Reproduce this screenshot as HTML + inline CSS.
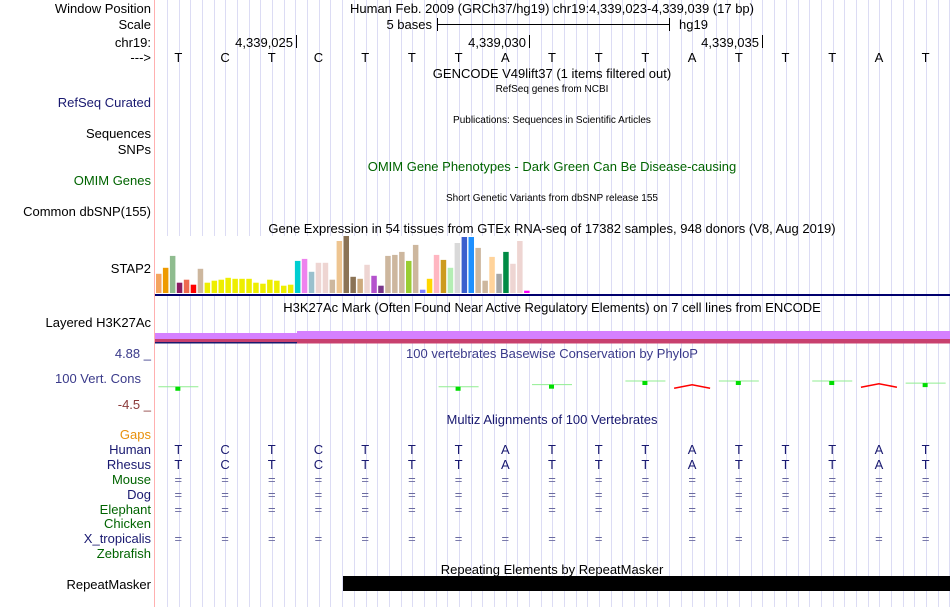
<!DOCTYPE html>
<html><head><meta charset="utf-8"><style>
html,body{margin:0;padding:0;background:#fff;}
svg{display:block;font-family:"Liberation Sans",sans-serif;}
</style></head><body>
<svg id="s" width="950" height="607" xmlns="http://www.w3.org/2000/svg">
<g id="grid"></g>
<line x1="154.5" y1="0" x2="154.5" y2="607" stroke="#ffb0b0"/>
<g font-size="13" text-anchor="end">
<text x="151" y="13" fill="#000">Window Position</text>
<text x="151" y="29" fill="#000">Scale</text>
<text x="151" y="47" fill="#000">chr19:</text>
<text x="151" y="62" fill="#000">---&gt;</text>
<text x="151" y="107" fill="#191970">RefSeq Curated</text>
<text x="151" y="138" fill="#000">Sequences</text>
<text x="151" y="154" fill="#000">SNPs</text>
<text x="151" y="185" fill="#006400">OMIM Genes</text>
<text x="151" y="216" fill="#000">Common dbSNP(155)</text>
<text x="151" y="273" fill="#000">STAP2</text>
<text x="151" y="327" fill="#000">Layered H3K27Ac</text>
<text x="151" y="358" fill="#3a3a8a">4.88 _</text>
<text x="141" y="383" fill="#3a3a8a">100 Vert. Cons</text>
<text x="151" y="409" fill="#8b3a3a">-4.5 _</text>
<text x="151" y="439" fill="#e8900c">Gaps</text>
<text x="151" y="454" fill="#191970">Human</text>
<text x="151" y="469" fill="#191970">Rhesus</text>
<text x="151" y="484" fill="#006400">Mouse</text>
<text x="151" y="499" fill="#191970">Dog</text>
<text x="151" y="514" fill="#006400">Elephant</text>
<text x="151" y="528" fill="#006400">Chicken</text>
<text x="151" y="543" fill="#191970">X_tropicalis</text>
<text x="151" y="558" fill="#006400">Zebrafish</text>
<text x="151" y="589" fill="#000">RepeatMasker</text>
</g>
<g font-size="13" text-anchor="middle">
<text x="552" y="13">Human Feb. 2009 (GRCh37/hg19)   chr19:4,339,023-4,339,039 (17 bp)</text>
<text x="552" y="78">GENCODE V49lift37 (1 items filtered out)</text>
<text x="552" y="92" font-size="10">RefSeq genes from NCBI</text>
<text x="552" y="123" font-size="10">Publications: Sequences in Scientific Articles</text>
<text x="552" y="171" fill="#006400">OMIM Gene Phenotypes - Dark Green Can Be Disease-causing</text>
<text x="552" y="201" font-size="10">Short Genetic Variants from dbSNP release 155</text>
<text x="552" y="233">Gene Expression in 54 tissues from GTEx RNA-seq of 17382 samples, 948 donors (V8, Aug 2019)</text>
<text x="552" y="312">H3K27Ac Mark (Often Found Near Active Regulatory Elements) on 7 cell lines from ENCODE</text>
<text x="552" y="358" fill="#3a3a8a">100 vertebrates Basewise Conservation by PhyloP</text>
<text x="552" y="424" fill="#191970">Multiz Alignments of 100 Vertebrates</text>
<text x="552" y="574">Repeating Elements by RepeatMasker</text>
</g>
<g font-size="13">
<text x="432" y="29" text-anchor="end">5 bases</text>
<line x1="437" y1="24.5" x2="669" y2="24.5" stroke="#000"/>
<line x1="437.5" y1="18" x2="437.5" y2="31" stroke="#000"/>
<line x1="669.5" y1="18" x2="669.5" y2="31" stroke="#000"/>
<text x="679" y="29">hg19</text>
<text x="293" y="47" text-anchor="end">4,339,025</text>
<line x1="296.5" y1="35" x2="296.5" y2="48" stroke="#000"/>
<text x="526" y="47" text-anchor="end">4,339,030</text>
<line x1="529.5" y1="35" x2="529.5" y2="48" stroke="#000"/>
<text x="759" y="47" text-anchor="end">4,339,035</text>
<line x1="762.5" y1="35" x2="762.5" y2="48" stroke="#000"/>
</g>
<rect x="155" y="236" width="380" height="58" fill="#fff"/>
<g id="gtex"></g>
<rect x="155" y="294" width="795" height="2" fill="#00006e"/>
<g>
<rect x="155" y="333" width="142" height="7" fill="#d580ff"/>
<rect x="297" y="331" width="653" height="9" fill="#d580ff"/>
<rect x="155" y="339" width="795" height="3" fill="#c8406e"/>
<rect x="155" y="342" width="142" height="1.5" fill="#1a1a6e"/>
<rect x="297" y="342" width="653" height="1.5" fill="#c8406e"/>
</g>
<g id="cons"></g>
<g id="seq" font-size="13" text-anchor="middle"></g>
<rect x="343" y="576" width="607" height="15" fill="#000"/>
</svg>
<script>
const bases = ["T","C","T","C","T","T","T","A","T","T","T","A","T","T","T","A","T"];
const gtexValues = [58,76,112,31,40,25,73,31,37,40,46,43,43,43,31,28,40,37,22,25,97,103,64,91,91,40,157,172,49,43,85,52,22,112,115,124,97,145,10,43,115,100,76,151,169,169,136,37,109,58,124,88,157,7];
const gtexColors = ["#f4a460","#ee9a00","#8fbc8f","#8b1c62","#ee6a50","#ff0000","#cdb79e","#eeee00","#eeee00","#eeee00","#eeee00","#eeee00","#eeee00","#eeee00","#eeee00","#eeee00","#eeee00","#eeee00","#eeee00","#eeee00","#00ced1","#ee82ee","#9ac0cd","#eed5d2","#eed5d2","#cdb79e","#eec591","#8b7355","#8b7355","#cdaa7d","#eed5d2","#b452cd","#7a378b","#cdb79e","#cdb79e","#cdb79e","#9acd32","#cdb79e","#7f7fff","#ffd700","#ffb6c1","#cd9b1d","#b4eeb4","#d9d9d9","#3a5fcd","#1e90ff","#cdb79e","#cdb79e","#ffd39b","#a6a6a6","#008b45","#eed5d2","#eed5d2","#ff00ff"];
const consValues = [-1.2,null,null,null,null,null,-1.2,null,-0.8,null,-0.1,-1.3,-0.1,null,-0.1,-1.1,-0.5];
const consSign = ["g","","","","","","g","","g","","g","r","g","","g","r","g"];
const alnRows = ["Human","Rhesus","Mouse","Dog","Elephant","Chicken","X_tropicalis","Zebrafish"];
const alnY = [454,469,484,499,514,528,543,558];
const NS="http://www.w3.org/2000/svg";
function mk(t,a,p){const e=document.createElementNS(NS,t);for(const k in a)e.setAttribute(k,a[k]);p.appendChild(e);return e;}
const X0=155,BW=(949-155)/17;
const xBase=i=>X0+BW*(i+0.5);
const grid=document.getElementById('grid');
for(let x=167;x<950;x+=BW/4){mk('line',{x1:Math.round(x)+0.5,y1:0,x2:Math.round(x)+0.5,y2:607,stroke:'#dcdcf4'},grid);}
const strand=document.getElementById('seq');
bases.forEach((b,i)=>{const t=mk('text',{x:xBase(i),y:62},strand);t.textContent=b;

});
// GTEx
const g=document.getElementById('gtex');
const gBase=293, gScale=57/172, gStep=(530-155)/54;
gtexValues.forEach((v,i)=>{const h=v*gScale;const r=mk('rect',{x:(156+gStep*i).toFixed(1),y:(gBase-h).toFixed(1),width:5.5,height:h.toFixed(1),fill:gtexColors[i]},g);

});
// Conservation
const c=document.getElementById('cons');
const yC=v=>355+(4.88-v)/(4.88+4.5)*49;
consValues.forEach((v,i)=>{if(v===null)return;const y=yC(v);const cx=xBase(i);
if(consSign[i]==='g'){
const l=mk('line',{x1:cx-20,y1:y,x2:cx+20,y2:y,stroke:'#90ee90'},c);


const r=mk('rect',{x:cx-3,y:y,width:5,height:4,fill:'#00dd00'},c);


}else{
const p=mk('polyline',{points:`${cx-18},${y+1} ${cx},${y-2.5} ${cx+18},${y+1}`,fill:'none',stroke:'#ff0000','stroke-width':1.5},c);


}});
// alignments
alnRows.forEach((sp,r)=>{bases.forEach((b,i)=>{let ch='';
if(sp==='Human'||sp==='Rhesus')ch=b;else if(sp==='Chicken'||sp==='Zebrafish')ch='';else ch='=';
if(!ch)return;const t=mk('text',{x:xBase(i),y:alnY[r],fill:ch==='='?'#6a6aa0':'#191970'},strand);t.textContent=ch;

});});
</script>
</body></html>
